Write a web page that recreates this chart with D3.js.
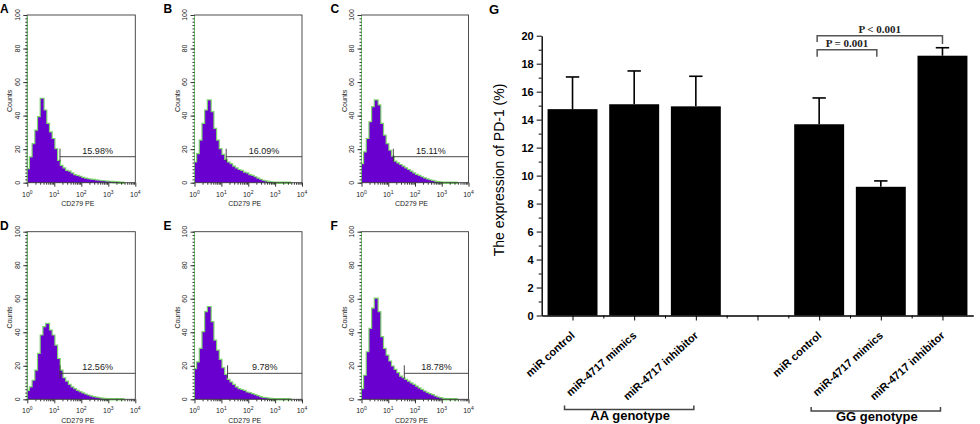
<!DOCTYPE html>
<html>
<head>
<meta charset="utf-8">
<script src="https://d3js.org/d3.v7.min.js"></script>
<style>
  body { margin: 0; background: #fff; }
  svg { display: block; font-family: "Liberation Sans", Arial, sans-serif; }
</style>
</head>
<body>
<div id="graph"></div>
<script>

// ---- Data: flow cytometry panels A-F ----
var panelNames = ['A', 'B', 'C', 'D', 'E', 'F']
var gateLabels = ['15.98%', '16.09%', '15.11%', '12.56%', '9.78%', '18.78%']
// log10(CD279 PE) where each marker starts
var gateStart = [1.21, 1.18, 1.19, 1.21, 1.23, 1.6]
var gateCount = 15.5

// bin starts in log10 units
var binStart = [0, 0.1, 0.2, 0.3, 0.4, 0.5, 0.6, 0.7, 0.8, 0.9,
  1, 1.1, 1.2, 1.3, 1.4, 1.5, 1.6, 1.7, 1.8, 1.9,
  2, 2.1, 2.2, 2.3, 2.4, 2.5, 2.6, 2.7, 2.8, 2.9,
  3, 3.1, 3.2, 3.3, 3.4, 3.5]

var countsA = [8, 15, 23, 31, 39, 50, 43, 35, 30, 26, 20, 13, 10, 8.5, 7, 6.5, 5.5, 4.5, 4, 3.5,
  2.8, 2.4, 2, 1.8, 1.6, 1.3, 1.1, 0.9, 0.8, 0.6, 0.5, 0.4, 0.3, 0.2, 0, 0]
var countsB = [12, 17, 25, 35, 43, 49, 42, 32, 25, 20, 16.5, 13.5, 12, 11, 9.5, 8.5, 7.5, 7, 6, 5.5,
  4.5, 4, 3.2, 2.4, 1.7, 1.1, 0.7, 0.4, 0.2, 0, 0, 0, 0, 0, 0, 0]
var countsC = [11, 18, 26, 36, 45, 49, 46, 35, 28, 23, 19, 15.5, 12.5, 11.5, 10.5, 9.5, 8.5, 7.5, 6.5, 5.5,
  4.6, 4, 3.2, 2.5, 1.9, 1.4, 1, 0.6, 0.3, 0.1, 0, 0, 0, 0, 0, 0]
var countsD = [5, 7, 11, 17, 27, 38, 43, 45, 41, 38, 32, 24, 17, 12.5, 10.5, 8.5, 7, 6, 5, 4.2,
  3.5, 2.8, 2.2, 1.7, 1.2, 0.9, 0.6, 0.4, 0.2, 0, 0, 0, 0, 0, 0, 0]
var countsE = [18, 22, 30, 40, 52, 55, 46, 35, 29, 23.5, 18.5, 14.5, 11.5, 10, 8.5, 7, 6, 5.5, 5, 4,
  3.6, 3, 2.4, 1.8, 1.2, 0.8, 0.6, 0.4, 0.2, 0, 0, 0, 0, 0, 0, 0]
var countsF = [6, 14, 28, 42, 54, 60, 52, 37, 30, 26, 22.5, 19.5, 17.5, 15.5, 13.5, 12.5, 11.5, 10.5, 9.5, 8.5,
  7.5, 6.4, 5.6, 4.6, 3.8, 3, 2.4, 1.6, 1, 0.6, 0.2, 0, 0, 0, 0, 0]
var countsByPanel = [countsA, countsB, countsC, countsD, countsE, countsF]

var countTicks = [0, 20, 40, 60, 80, 100]
var decades = [0, 1, 2, 3, 4]

// ---- Data: bar chart G ----
var treatments = ['miR control', 'miR-4717 mimics', 'miR-4717 inhibitor']
var genotypes = ['AA genotype', 'GG genotype']
var meanAA = [14.75, 15.1, 14.95]
var errAA = [2.3, 2.38, 2.15]
var meanGG = [13.67, 9.2, 18.57]
var errGG = [1.88, 0.42, 0.57]
var yTicks = [0, 2, 4, 6, 8, 10, 12, 14, 16, 18, 20]
var pLabels = ['P = 0.001', 'P < 0.001']

var svg = d3.select('#graph')
  .append('svg')
  .attr('width', 980)
  .attr('height', 424)

// ---------------- Histograms ----------------
var colLeft = [27.3, 194.5, 361.5], colRight = [135.3, 302, 468.5]
var rowTop = [15, 231.7], rowBottom = [182.7, 399.3]

panelNames.forEach(function(name, i) {
  var left = colLeft[i % 3], right = colRight[i % 3]
  var top = rowTop[Math.floor(i / 3)], bottom = rowBottom[Math.floor(i / 3)]

  var x = d3.scaleLog().domain([1, 1e4]).range([left, right])
  var y = d3.scaleLinear().domain([0, 100]).range([bottom, top])
  var g = svg.append('g')

  var bins = binStart.map(function(b, j) { return {b: b, c: countsByPanel[i][j]} })
  bins.push({b: 3.6, c: 0})

  var line = d3.line()
    .x(function(d) { return x(Math.pow(10, d.b)) })
    .y(function(d) { return y(d.c) })
    .curve(d3.curveStepAfter)
  var area = d3.area()
    .x(function(d) { return x(Math.pow(10, d.b)) })
    .y0(bottom)
    .y1(function(d) { return y(d.c) })
    .curve(d3.curveStepAfter)

  // green overlay outline sits just under the purple fill
  g.append('path').datum(bins).attr('d', line)
    .attr('fill', 'none').attr('stroke', '#7fd36f').attr('stroke-width', 2.4)
  g.append('path').datum(bins).attr('d', area)
    .attr('fill', '#6a00cf')

  // frame
  g.append('rect')
    .attr('x', left).attr('y', top)
    .attr('width', right - left).attr('height', bottom - top)
    .attr('fill', 'none').attr('stroke', '#3a3a3a').attr('stroke-width', 0.9)
  g.append('line')
    .attr('x1', left).attr('x2', left).attr('y1', top).attr('y2', bottom)
    .attr('stroke', '#6cc56c').attr('stroke-width', 1)

  // left axis ticks
  g.append('g').attr('transform', `translate(${left},0)`)
    .call(d3.axisLeft(y).tickValues(d3.range(0, 101, 2)).tickSize(2).tickFormat(''))
  g.append('g').attr('transform', `translate(${left},0)`)
    .call(d3.axisLeft(y).tickValues(countTicks).tickSize(4).tickFormat(''))

  // bottom axis ticks (log)
  var logMinor = []
  decades.slice(0, 4).forEach(function(k) {
    d3.range(2, 10).forEach(function(m) { logMinor.push(m * Math.pow(10, k)) })
  })
  g.append('g').attr('transform', `translate(0,${bottom})`)
    .call(d3.axisBottom(x).tickValues(logMinor).tickSize(2).tickFormat(''))
  g.append('g').attr('transform', `translate(0,${bottom})`)
    .call(d3.axisBottom(x).tickValues(decades.map(function(k) { return Math.pow(10, k) })).tickSize(4).tickFormat(''))

  g.selectAll('.domain').remove()
  g.selectAll('.tick line').attr('stroke', '#333').attr('stroke-width', 0.8)

  // y labels, rotated
  g.selectAll('.ylab')
    .data(countTicks)
    .enter().append('text')
    .attr('transform', function(d) { return `translate(${left - 7.5},${y(d)}) rotate(-90)` })
    .attr('text-anchor', 'middle')
    .style('font-size', '7px')
    .attr('fill', '#222')
    .text(function(d) { return d })

  g.append('text')
    .attr('transform', `translate(${left - 15},${(top + bottom) / 2 + 2}) rotate(-90)`)
    .attr('text-anchor', 'middle')
    .style('font-size', '7px')
    .attr('fill', '#222')
    .text('Counts')

  // x labels 10^k
  var xl = g.selectAll('.xlab')
    .data(decades)
    .enter().append('text')
    .attr('x', function(d) { return x(Math.pow(10, d)) })
    .attr('y', bottom + 13.8)
    .attr('text-anchor', 'middle')
    .style('font-size', '7px')
    .attr('fill', '#222')
  xl.append('tspan').text('10')
  xl.append('tspan').attr('dy', -3).style('font-size', '5px').text(function(d) { return d })

  g.append('text')
    .attr('x', (left + right) / 2 - 3.5)
    .attr('y', bottom + 23.5)
    .attr('text-anchor', 'middle')
    .style('font-size', '7px')
    .attr('fill', '#222')
    .text('CD279 PE')

  // marker gate
  var gx = x(Math.pow(10, gateStart[i])), gy = y(gateCount)
  g.append('path')
    .attr('d', `M${gx},${gy - 8}V${gy + 5}M${gx},${gy}H${right}`)
    .attr('fill', 'none').attr('stroke', '#333').attr('stroke-width', 0.9)
  g.append('text')
    .attr('x', (gx + right) / 2)
    .attr('y', gy - 3)
    .attr('text-anchor', 'middle')
    .style('font-size', '9px')
    .attr('fill', '#222')
    .text(gateLabels[i])

  // panel letter
  g.append('text')
    .attr('x', Math.max(0, left - 31))
    .attr('y', top - 1.7)
    .style('font-size', '12px')
    .attr('font-weight', 'bold')
    .text(name)
})

// ---------------- Bar chart G ----------------
var bars = treatments.map(function(t, i) { return {slot: i, label: t, mean: meanAA[i], err: errAA[i]} })
  .concat(treatments.map(function(t, i) { return {slot: i + 4, label: t, mean: meanGG[i], err: errGG[i]} }))

var sx = d3.scaleLinear().domain([0, 7]).range([541.7, 973.3])
var by = d3.scaleLinear().domain([0, 20]).range([315.5, 35.7])
var bw = sx(0.81) - sx(0)

svg.append('text')
  .attr('x', 489).attr('y', 14)
  .style('font-size', '13px').attr('font-weight', 'bold')
  .text('G')

// bars
svg.append('g')
  .selectAll('rect')
  .data(bars)
  .enter().append('rect')
  .attr('x', function(d) { return sx(d.slot + 0.5) - bw / 2 })
  .attr('y', function(d) { return by(d.mean) })
  .attr('width', bw)
  .attr('height', function(d) { return by(0) - by(d.mean) })
  .attr('fill', '#000')

// error bars
var eb = svg.append('g').attr('stroke', '#000').attr('stroke-width', 1.6)
eb.selectAll('.stem')
  .data(bars)
  .enter().append('line')
  .attr('x1', function(d) { return sx(d.slot + 0.5) })
  .attr('x2', function(d) { return sx(d.slot + 0.5) })
  .attr('y1', function(d) { return by(d.mean) })
  .attr('y2', function(d) { return by(d.mean + d.err) })
eb.selectAll('.cap')
  .data(bars)
  .enter().append('line')
  .attr('x1', function(d) { return sx(d.slot + 0.5) - 6.7 })
  .attr('x2', function(d) { return sx(d.slot + 0.5) + 6.7 })
  .attr('y1', function(d) { return by(d.mean + d.err) })
  .attr('y2', function(d) { return by(d.mean + d.err) })

// y axis
var yAxis = svg.append('g')
  .attr('transform', `translate(${sx(0)},0)`)
  .call(d3.axisLeft(by).tickValues(yTicks).tickSize(5).tickSizeOuter(0).tickPadding(3))
svg.append('g')
  .attr('transform', `translate(${sx(0)},0)`)
  .call(d3.axisLeft(by).tickValues([1, 3, 5, 7, 9, 11, 13, 15, 17, 19]).tickSize(3).tickFormat(''))
  .select('.domain').remove()
yAxis.selectAll('text')
  .style('font-size', '11px').attr('font-weight', 'bold')
  .style('font-family', '"Liberation Sans", Arial, sans-serif')

// x axis
svg.append('g')
  .attr('transform', `translate(0,${by(0)})`)
  .call(d3.axisBottom(sx).tickValues([0.5, 1.5, 2.5, 3.5, 4.5, 5.5, 6.5]).tickSize(5).tickSizeOuter(0).tickFormat(''))
svg.append('g')
  .attr('transform', `translate(0,${by(0)})`)
  .call(d3.axisBottom(sx).tickValues([1, 2, 3, 4, 5, 6]).tickSize(3).tickFormat(''))
  .select('.domain').remove()

svg.selectAll('.domain').attr('stroke-width', 1.4)
svg.selectAll('.tick line').attr('stroke-width', 1)

// rotated category labels
svg.append('g')
  .selectAll('text')
  .data(bars)
  .enter().append('text')
  .attr('transform', function(d) { return `translate(${sx(d.slot + 0.5) + 3},${by(0) + 21}) rotate(-42)` })
  .attr('text-anchor', 'end')
  .style('font-size', '11px')
  .attr('font-weight', 'bold')
  .text(function(d) { return d.label })

// y axis title
svg.append('text')
  .attr('transform', 'translate(504,170) rotate(-90)')
  .attr('text-anchor', 'middle')
  .style('font-size', '14px')
  .text('The expression of PD-1 (%)')

// genotype brackets
genotypes.forEach(function(name, k) {
  var x1 = sx(k * 4 + 0.5) - 8, x2 = sx(k * 4 + 2.5) - 2, yy = 409.5 + k * 1.5
  svg.append('path')
    .attr('d', `M${x1},${yy - 4}V${yy}H${x2}V${yy - 4}`)
    .attr('fill', 'none').attr('stroke', '#444').attr('stroke-width', 1.5)
  svg.append('text')
    .attr('x', (x1 + x2) / 2 + 1)
    .attr('y', yy + 10)
    .attr('text-anchor', 'middle')
    .style('font-size', '13px')
    .attr('font-weight', 'bold')
    .text(name)
})

// significance brackets
var pBrackets = [
  {from: 4, to: 5, level: 19, legL: 18.5, legR: 18.5, label: pLabels[0]},
  {from: 4, to: 6, level: 20, legL: 19.55, legR: 19.4, label: pLabels[1]}
]
pBrackets.forEach(function(p) {
  var x1 = sx(p.from + 0.5) - 2, x2 = sx(p.to + 0.5) - (p.to === 6 ? 0 : 4)
  svg.append('path')
    .attr('d', `M${x1},${by(p.legL)}V${by(p.level)}H${x2}V${by(p.legR)}`)
    .attr('fill', 'none').attr('stroke', '#555').attr('stroke-width', 1.5)
  svg.append('text')
    .attr('x', (x1 + x2) / 2)
    .attr('y', by(p.level) - 2.3)
    .attr('text-anchor', 'middle')
    .style('font-family', '"Liberation Serif", "Times New Roman", serif')
    .style('font-size', '11px')
    .attr('font-weight', 'bold')
    .attr('fill', '#222')
    .text(p.label)
})

</script>
</body>
</html>
